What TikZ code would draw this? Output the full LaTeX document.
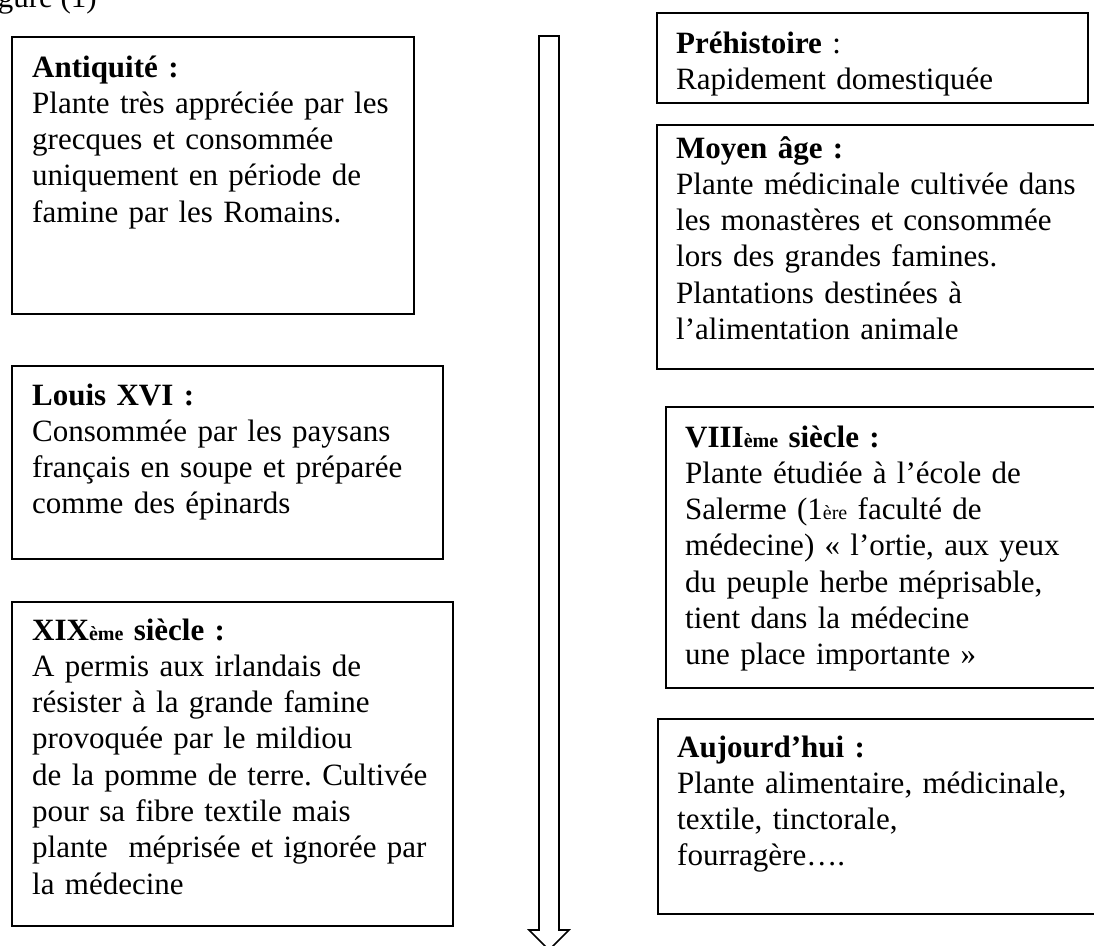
\documentclass[tikz,border=0pt]{standalone}
\usepackage{fontspec}
\setmainfont{Liberation Serif}
\usetikzlibrary{positioning}
\frenchspacing
\newcommand{\petit}[1]{{\fontsize{20}{20}\selectfont #1}}
\begin{document}
\begin{tikzpicture}[x=1pt, y=-1pt,
  panel/.style={draw, line width=1.6pt, inner sep=0pt, anchor=north west},
  note/.style={anchor=base west, inner sep=0pt, text width=440pt, align=left,
    font=\fontsize{31}{36.3}\selectfont}]
        \useasboundingbox (0, 0) rectangle (1094, 945);

        % caption, cut off by the page edge
        \node at (97, 7) (fig) [anchor=base east, inner sep=0pt, font=\fontsize{31}{36}\selectfont] {Figure (1)};

        % Define frames on the left
        \node at (11, 36) (antiq) [panel, minimum width=402, minimum height=277] {};
        \node at (11, 365) (louis) [panel, minimum width=431, minimum height=193] {};
        \node at (11, 601) (xix) [panel, minimum width=441, minimum height=324] {};

        % Define frames on the right
        \node at (656, 12) (prehist) [panel, minimum width=431, minimum height=90] {};
        \node at (656, 124) (moyen) [panel, minimum width=454, minimum height=244] {};
        \node at (665, 406) (viii) [panel, minimum width=445, minimum height=281] {};
        \node at (657, 718) (today) [panel, minimum width=453, minimum height=195] {};

        % Texts inside the frames
        \node at ([shift={(21, 41)}]antiq.north west) (antiqtxt) [note] {\textbf{Antiquité :}\\
          Plante très appréciée par les\\ grecques et consommée\\
          uniquement en période de\\ famine par les Romains.};
        \node at ([shift={(21, 40)}]louis.north west) (louistxt) [note] {\textbf{Louis XVI :}\\
          Consommée par les paysans\\ français en soupe et préparée\\
          comme des épinards};
        \node at ([shift={(21, 39)}]xix.north west) (xixtxt) [note] {\textbf{XIX\petit{ème} siècle :}\\
          A permis aux irlandais de\\ résister à la grande famine\\
          provoquée par le mildiou\\ de la pomme de terre. Cultivée\\
          pour sa fibre textile mais\\ plante\ \ méprisée et ignorée par\\ la médecine};
        \node at ([shift={(20, 41)}]prehist.north west) (prehisttxt) [note] {\textbf{Préhistoire} :\\
          Rapidement domestiquée};
        \node at ([shift={(20, 34)}]moyen.north west) (moyentxt) [note] {\textbf{Moyen âge :}\\
          Plante médicinale cultivée dans\\ les monastères et consommée\\
          lors des grandes famines.\\ Plantations destinées à\\ l’alimentation animale};
        \node at ([shift={(20, 41)}]viii.north west) (viiitxt) [note] {\textbf{VIII\petit{ème} siècle :}\\
          Plante étudiée à l’école de\\ Salerme (1\petit{ère} faculté de\\
          médecine) « l’ortie, aux yeux\\ du peuple herbe méprisable,\\
          tient dans la médecine\\ une place importante »};
        \node at ([shift={(20, 39)}]today.north west) (todaytxt) [note] {\textbf{Aujourd’hui :}\\
          Plante alimentaire, médicinale,\\ textile, tinctorale,\\ fourragère….};

        % Draw the time arrow
        \draw[line width=1.6pt] (539, 36) -- (559, 36) -- (559, 930) -- (569, 930)
          -- (549, 950) -- (529, 930) -- (539, 930) -- cycle;
    \end{tikzpicture}
\end{document}
